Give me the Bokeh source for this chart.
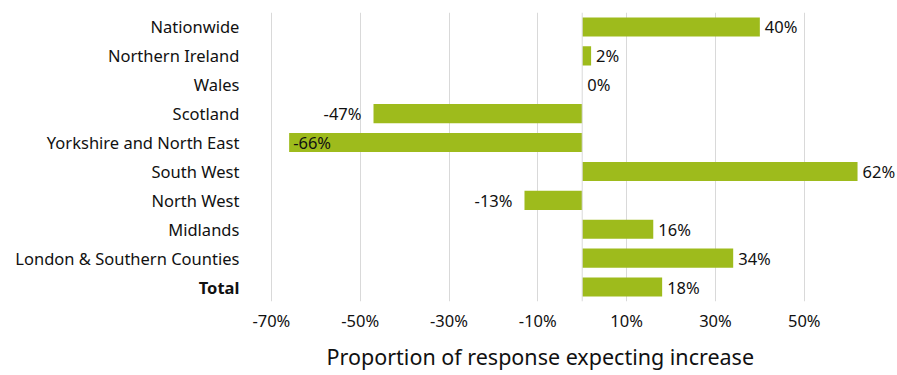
from bokeh.plotting import figure
from bokeh.models import ColumnDataSource, FactorRange, FixedTicker, PrintfTickFormatter, Span, Range1d, Title
from bokeh.core.properties import value
from bokeh.embed import file_html
from bokeh.resources import INLINE

categories = ["Nationwide", "Northern Ireland", "Wales", "Scotland", "Yorkshire and North East",
              "South West", "North West", "Midlands", "London & Southern Counties", "Total"]
values = [40, 2, 0, -47, -66, 62, -13, 16, 34, 18]
tick_values = [-70, -50, -30, -10, 10, 30, 50]
x_min, x_max = -70, 71
# extra room on the left of the value axis where the category names are written
x_label_room = 61
axis_title = "Proportion of response expecting increase"

FONT = "Noto Sans"
GREEN = "#9EBB1C"
TEXT = "#111111"
FS = "16.5px"

factors = categories[::-1]
p = figure(width=897, height=375, output_backend="svg", toolbar_location=None,
           y_range=FactorRange(factors=factors),
           x_range=Range1d(x_min - x_label_room, x_max),
           y_axis_location=None,
           min_border_left=0, min_border_right=0, min_border_top=12, min_border_bottom=0)
p.outline_line_color = None
p.background_fill_color = "white"

# bars
src = ColumnDataSource(dict(cat=categories, val=values))
p.hbar(y="cat", left=0, right="val", height=0.66, source=src,
       fill_color=GREEN, line_color=None)

# data labels
pos_x, pos_c, pos_l = [], [], []
neg_x, neg_c, neg_l = [], [], []
ins_x, ins_c, ins_l = [], [], []
for c, v in zip(categories, values):
    if v >= 0:
        pos_x.append(v); pos_c.append(c); pos_l.append(f"{v}%")
    elif v < -60:
        ins_x.append(v); ins_c.append(c); ins_l.append(f"{v}%")
    else:
        neg_x.append(v); neg_c.append(c); neg_l.append(f"{v}%")

common = dict(text_font=value(FONT), text_font_size=FS, text_color=TEXT,
              text_baseline="middle")
p.text(x=pos_x, y=pos_c, text=pos_l, x_offset=5, text_align="left", **common)
p.text(x=neg_x, y=neg_c, text=neg_l, x_offset=-12, text_align="right", **common)
p.text(x=ins_x, y=ins_c, text=ins_l, x_offset=4, text_align="left", **common)

# category names (Total in bold)
reg = [c for c in categories if c != "Total"]
p.text(x=[x_min] * len(reg), y=reg, text=reg, x_offset=-32, text_align="right", **common)
p.text(x=[x_min], y=["Total"], text=["Total"], x_offset=-32, text_align="right",
       text_font_style="bold", **common)

# grid
p.xgrid.ticker = FixedTicker(ticks=tick_values)
p.xgrid.grid_line_color = "#D9D9D9"
p.xgrid.grid_line_width = 1
p.ygrid.grid_line_color = None
p.add_layout(Span(location=0, dimension="height", line_color="#D9D9D9", line_width=1))

# x axis
xa = p.xaxis[0]
xa.ticker = FixedTicker(ticks=tick_values)
xa.formatter = PrintfTickFormatter(format="%d%%")
xa.axis_line_color = None
xa.major_tick_line_color = None
xa.minor_tick_line_color = None
xa.major_tick_out = 0
xa.major_tick_in = 0
xa.major_label_text_font = FONT
xa.major_label_text_font_size = FS
xa.major_label_text_color = TEXT
xa.major_label_standoff = 7

# axis title, placed under the value axis
p.add_layout(Title(text=axis_title, align="left", offset=326, text_font=FONT,
                   text_font_size="21.5px", text_font_style="normal",
                   text_color=TEXT, standoff=10), "below")

open("out.html", "w").write(file_html(p, INLINE))
